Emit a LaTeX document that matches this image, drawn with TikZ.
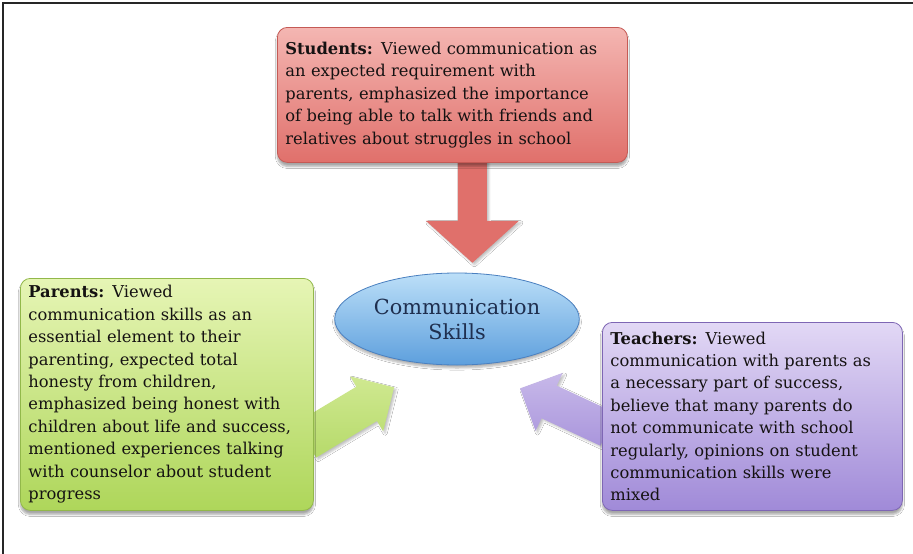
\documentclass[tikz,border=0pt]{standalone}
\usepackage{fontspec}
\setmainfont{DejaVu Serif}
\usetikzlibrary{shapes.geometric,shadows.blur,backgrounds,calc}
\definecolor{redtop}{HTML}{F4B6B2}
\definecolor{redbot}{HTML}{E0706B}
\definecolor{redline}{HTML}{C55A55}
\definecolor{greentop}{HTML}{E6F5B5}
\definecolor{greenbot}{HTML}{AED65A}
\definecolor{greenline}{HTML}{92B84A}
\definecolor{purptop}{HTML}{E2D8F5}
\definecolor{purpbot}{HTML}{A08AD8}
\definecolor{purpline}{HTML}{7E66B4}
\definecolor{bluetop}{HTML}{BCDFF8}
\definecolor{bluebot}{HTML}{5D9FDD}
\definecolor{blueline}{HTML}{4A80C0}
\definecolor{txt}{HTML}{151212}
\definecolor{bluetxt}{HTML}{1F2F4F}
\newcommand{\myblockarrow}[7]{%
  \begin{scope}[shift={(#2)}, rotate=#3]
    \path[#1] (0,#5) -- ({#4-#7},#5) -- ({#4-#7},#6) -- (#4,0) -- ({#4-#7},-#6) -- ({#4-#7},-#5) -- (0,-#5) -- cycle;
  \end{scope}}
\tikzset{
  infobox/.style={rounded corners=10pt, anchor=north west, align=left,
    inner xsep=8pt, inner ysep=4pt, line width=0.8pt, text=txt,
    font=\fontsize{16.3}{22.4}\selectfont,
    blur shadow={shadow xshift=0pt, shadow yshift=-4pt, shadow blur steps=6, shadow opacity=35}},
  redbox/.style={infobox, draw=redline, top color=redtop, bottom color=redbot},
  greenbox/.style={infobox, draw=greenline, top color=greentop, bottom color=greenbot},
  purpbox/.style={infobox, draw=purpline, top color=purptop, bottom color=purpbot},
  centre/.style={ellipse, draw=blueline, line width=0.8pt, top color=bluetop, bottom color=bluebot,
    minimum width=240pt, minimum height=92pt, align=center, text=bluetxt,
    font=\fontsize{20.8}{25}\selectfont,
    blur shadow={shadow xshift=0pt, shadow yshift=-3pt, shadow blur steps=5, shadow opacity=30}},
  redarrow/.style={top color=redbot, middle color=redtop!70!redbot, bottom color=redbot,
    blur shadow={shadow xshift=2pt, shadow yshift=-2pt, shadow blur steps=4, shadow opacity=25}},
  greenarrow/.style={top color=greentop!60!greenbot, bottom color=greenbot!90!white,
    blur shadow={shadow xshift=2pt, shadow yshift=-2pt, shadow blur steps=4, shadow opacity=25}},
  purparrow/.style={top color=purptop!60!purpbot, bottom color=purpbot!90!white,
    blur shadow={shadow xshift=2pt, shadow yshift=-2pt, shadow blur steps=4, shadow opacity=25}},
  framel/.style={line width=1.3pt, black!85}
}
\begin{document}
\begin{tikzpicture}[x=1pt,y=-1pt]
\useasboundingbox (0,0) rectangle (913,554);

\node[redbox, text width=334pt, minimum height=135pt] (stud) at (277,27)
  {\textbf{Students:} Viewed communication as\\
   an expected requirement with\\
   parents, emphasized the importance\\
   of being able to talk with friends and\\
   relatives about struggles in school};

\node[greenbox, text width=277pt, minimum height=232pt] (par) at (20,278)
  {\textbf{Parents:} Viewed\\
   communication skills as an\\
   essential element to their\\
   parenting, expected total\\
   honesty from children,\\
   emphasized being honest with\\
   children about life and success,\\
   mentioned experiences talking\\
   with counselor about student\\
   progress};

\node[purpbox, text width=284pt, minimum height=188pt] (teach) at (602,322)
  {\textbf{Teachers:} Viewed\\
   communication with parents as\\
   a necessary part of success,\\
   believe that many parents do\\
   not communicate with school\\
   regularly, opinions on student\\
   communication skills were\\
   mixed};

\node[centre] (cs) at (457,319) {Communication\\Skills};

\coordinate (sa) at ($(stud.south)+(20,-12)$);
\coordinate (pa) at ($(par.east)+(-8,46)$);
\coordinate (ta) at ($(teach.west)+(6,13)$);

\begin{scope}[on background layer]
  \fill[white] (0,0) rectangle (913,554);
  \draw[framel] (3,554) -- (3,3) -- (913,3);
  \myblockarrow{redarrow}{sa}{-90}{112}{14.5}{46.5}{42}
  \myblockarrow{greenarrow}{pa}{31}{103}{20}{32}{32}
  \myblockarrow{purparrow}{ta}{155}{97}{18}{32}{32}
\end{scope}
\end{tikzpicture}
\end{document}
